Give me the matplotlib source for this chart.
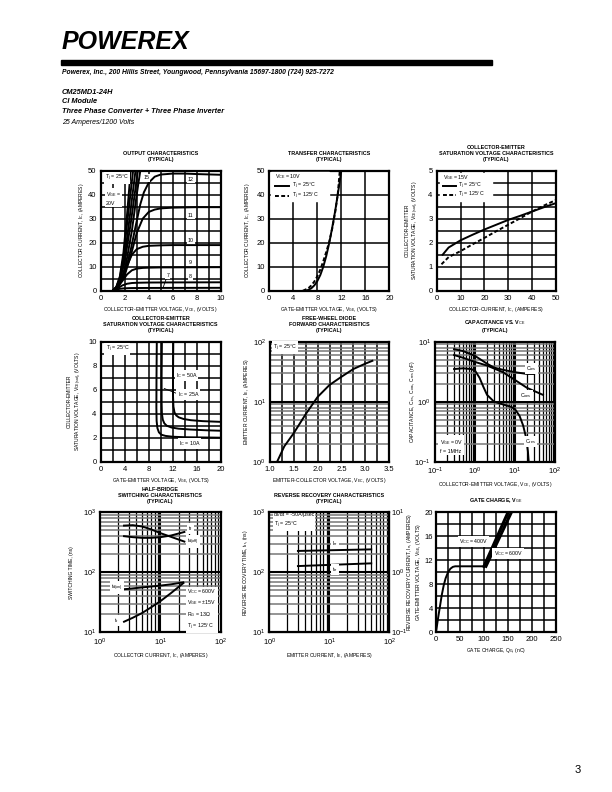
import numpy as np
import matplotlib
matplotlib.use("Agg")
import matplotlib.pyplot as plt
from matplotlib.patches import Rectangle

plt.rcParams['font.family'] = ['Liberation Sans', 'DejaVu Sans']
plt.rcParams['mathtext.fontset'] = 'custom'
plt.rcParams['mathtext.rm'] = 'Liberation Sans'
plt.rcParams['mathtext.it'] = 'Liberation Sans:italic'
plt.rcParams['mathtext.bf'] = 'Liberation Sans:bold'

# ---------------- data ----------------
# output characteristics, Ic vs Vce for several Vge
out_vge = ['20', '17', '15', '14', '13', '12', '11', '10', '9', '8', '7']
out_vce = [
    [1.0, 1.3, 1.6, 1.9, 2.2, 2.5],
    [1.0, 1.3, 1.6, 1.9, 2.2, 2.7],
    [1.0, 1.3, 1.6, 2.0, 2.4, 2.9],
    [1.0, 1.3, 1.6, 2.0, 2.5, 3.1],
    [1.0, 1.3, 1.7, 2.1, 2.6, 3.0, 3.3],
    [1.0, 1.5, 2.0, 2.5, 3.0, 3.3, 3.6, 4.0, 4.5, 5.0, 6, 7, 8, 10],
    [1.0, 1.5, 2.0, 2.5, 3.0, 3.5, 4.0, 4.5, 5, 6, 8, 10],
    [1.0, 1.4, 1.8, 2.2, 2.6, 3.0, 3.5, 4, 5, 6, 8, 10],
    [1.0, 1.4, 1.8, 2.2, 2.6, 3.0, 3.5, 4, 5, 10],
    [1.0, 1.4, 1.8, 2.2, 2.6, 3.0, 4, 6, 10],
    [1.0, 1.3, 1.6, 2.0, 2.5, 4, 10],
]
out_ic = [
    [0, 1.5, 6, 16, 32, 50],
    [0, 1.5, 5.5, 14, 28, 50],
    [0, 1.4, 5, 14, 30, 50],
    [0, 1.3, 4.5, 12, 28, 50],
    [0, 1.2, 4.5, 11, 25, 40, 50],
    [0, 2, 7, 17, 29, 36, 41, 45, 47.5, 48.4, 48.8, 48.8, 48.6, 48.3],
    [0, 2, 6.5, 14.5, 24, 30, 32.8, 33.8, 34.3, 34.6, 34.8, 34.8],
    [0, 1.8, 5.5, 10.5, 15, 17.3, 18.3, 18.7, 18.9, 19, 19, 19],
    [0, 1.5, 4, 6.8, 8.5, 9.2, 9.5, 9.6, 9.7, 9.8],
    [0, 1, 2.2, 2.9, 3.2, 3.3, 3.4, 3.45, 3.5],
    [0, 0.4, 0.8, 1.0, 1.1, 1.15, 1.2],
]

# transfer characteristics
tr_vge_25 = [6.2, 7, 7.5, 8, 8.5, 9, 9.5, 10, 10.5, 11, 11.5, 12.0]
tr_ic_25 = [0, 1, 2.2, 4, 6.5, 10, 14.5, 20, 26.5, 33.5, 41.5, 50]
tr_vge_125 = [5.6, 6.5, 7, 7.5, 8, 8.5, 9, 9.5, 10, 10.5, 11, 11.4, 11.75]
tr_ic_125 = [0, 1, 2.2, 3.8, 6, 8.8, 12.3, 16.2, 20.5, 26, 33, 40, 50]

# Vce(sat) vs Ic
sat_ic_25 = [2.5, 5, 10, 15, 20, 25, 30, 35, 40, 45, 50]
sat_v_25 = [1.5, 1.8, 2.1, 2.33, 2.55, 2.75, 2.95, 3.12, 3.3, 3.48, 3.65]
sat_ic_125 = [2, 5, 10, 15, 20, 25, 30, 35, 40, 45, 50]
sat_v_125 = [1.1, 1.4, 1.65, 1.93, 2.2, 2.48, 2.75, 3.02, 3.3, 3.55, 3.78]

# Vce(sat) vs Vge
vg_10 = [9.35, 9.3, 9.28, 9.32, 9.45, 9.7, 10.1, 10.8, 12, 14, 17, 20]
vc_10 = [10, 7, 4.5, 3.4, 2.8, 2.45, 2.25, 2.15, 2.08, 2.04, 2.02, 2.0]
vg_25 = [10.2, 10.15, 10.15, 10.2, 10.35, 10.6, 11, 11.8, 13, 15, 17.5, 20]
vc_25 = [10, 7, 5, 4, 3.5, 3.2, 3.0, 2.85, 2.75, 2.68, 2.62, 2.58]
vg_50 = [12.1, 12.05, 12.05, 12.12, 12.3, 12.6, 13, 13.8, 15, 17, 20]
vc_50 = [10, 7, 5.5, 4.6, 4.1, 3.85, 3.7, 3.56, 3.46, 3.38, 3.32]

# free-wheel diode forward
fwd_vec = [1.15, 1.3, 1.5, 1.75, 2.0, 2.25, 2.5, 2.75, 3.0, 3.15]
fwd_ie = [1, 1.8, 3.0, 6.2, 12, 19, 26, 35, 43, 48]

# capacitance
cap_v = [0.3, 0.5, 1, 2, 3, 5, 10, 20, 30]
cap_cies = [7.5, 7.0, 5.8, 4.3, 3.7, 3.4, 3.1, 2.9, 2.9]
coes_v = [0.3, 0.5, 1, 2, 5, 10, 20, 50]
cap_coes = [6.0, 5.4, 4.6, 4.0, 3.1, 2.3, 1.7, 1.3]
cres_v = [0.3, 0.5, 0.8, 1, 1.3, 1.6, 2, 3, 5, 8, 10, 13, 16, 19, 21, 22]
cap_cres = [3.5, 3.6, 3.5, 3.3, 2.5, 1.8, 1.3, 1.0, 0.9, 0.82, 0.75, 0.58, 0.4, 0.25, 0.15, 0.1]

# half-bridge switching
sw_ic = [2.5, 3.5, 5, 7, 10, 15, 25]
sw_tdoff = [600, 610, 580, 520, 450, 390, 325]
sw_tf = [400, 385, 375, 375, 385, 410, 470]
ton_ic = [2.3, 3, 5, 10, 15, 24]
sw_tdon = [52, 53, 56, 60, 63, 68]
tr_ic = [2.5, 3.5, 5, 7, 10, 15, 24]
sw_tr = [15, 17.5, 21, 26, 33, 45, 66]

# reverse recovery
rr_ie = [3, 50]
rr_irr = [2.27, 2.41]
rr_trr = [127, 141]

# gate charge
gc_q = [0, 4, 8, 12, 16, 20, 25, 30, 35, 40, 60, 100]
gc_v = [0, 2.2, 4.2, 6.2, 7.8, 9, 10, 10.6, 10.9, 11, 11, 11]
gc_q400 = [100, 150]
gc_v400 = [11, 20]
gc_q600 = [104, 157]
gc_v600 = [11, 20]

# ---------------- figure ----------------
W, H = 612, 792
fig = plt.figure(figsize=(6.12, 7.92), dpi=100)

TICK = 5.5
LAB = 3.6
TIT = 3.9
LW = 1.4
BOX = dict(facecolor='white', edgecolor='none', pad=0.8)


def place(x0, y0, w=120, h=120):
    return fig.add_axes([x0 / W, 1 - (y0 + h) / H, w / W, h / H])


def center_label(axis, x):
    # put the (rotated) axis label's centre at x, in axes coords
    axis.set_label_coords(x, 0.5)
    axis.label.set_rotation_mode('default')
    axis.label.set_ha('center')
    axis.label.set_va('center')


def frame(ax, title, xlabel, ylabel, ylx=-0.18):
    for s in ax.spines.values():
        s.set_linewidth(1.6)
    ax.tick_params(length=0, labelsize=TICK, pad=3)
    ax.set_title(title, fontsize=TIT, fontweight='bold', pad=7, linespacing=1.25)
    ax.set_xlabel(xlabel, fontsize=LAB, labelpad=2)
    ax.set_ylabel(ylabel, fontsize=LAB, linespacing=1.3)
    center_label(ax.yaxis, ylx)


def lin_grid(ax, xlim, ylim, nx, ny):
    ax.set_xlim(*xlim)
    ax.set_ylim(*ylim)
    for v in np.linspace(xlim[0], xlim[1], nx + 1)[1:-1]:
        ax.axvline(v, color='black', lw=1.1, zorder=1)
    for v in np.linspace(ylim[0], ylim[1], ny + 1)[1:-1]:
        ax.axhline(v, color='black', lw=1.1, zorder=1)


def log_lines(ax, lo, hi, vertical):
    line = ax.axvline if vertical else ax.axhline
    for e in range(lo, hi):
        for m in range(1, 10):
            v = m * 10.0 ** e
            if m == 1 and e == lo:
                continue
            if m == 1:
                line(v, color='black', lw=1.5, zorder=1)
            elif vertical:
                line(v, color='black', lw=0.9, zorder=1)
            else:
                line(v, color='#777777', lw=1.1, zorder=1)


def pow_labels(lo, hi):
    return [r'10$^{%d}$' % e for e in range(lo, hi + 1)]


# --- header ---
fig.text(62 / W, 1 - 42 / H, 'POWEREX', fontsize=18, fontweight='heavy',
         fontstyle='italic', va='center', ha='left')
fig.patches.append(Rectangle((61 / W, 1 - 64.5 / H), 431 / W, 5 / H,
                             transform=fig.transFigure, color='black'))
fig.text(62 / W, 1 - 72 / H,
         'Powerex, Inc., 200 Hillis Street, Youngwood, Pennsylvania 15697-1800 (724) 925-7272',
         fontsize=4.85, fontweight='bold', fontstyle='italic', va='center')
fig.text(62 / W, 1 - 93 / H, 'CM25MD1-24H', fontsize=5.3, fontweight='bold',
         fontstyle='italic', va='center')
fig.text(62 / W, 1 - 101.5 / H, 'CI Module', fontsize=5.3, fontweight='bold',
         fontstyle='italic', va='center')
fig.text(62 / W, 1 - 111.5 / H, 'Three Phase Converter + Three Phase Inverter',
         fontsize=5.3, fontweight='bold', fontstyle='italic', va='center')
fig.text(62 / W, 1 - 122 / H, '25 Amperes/1200 Volts', fontsize=5.0,
         fontstyle='italic', va='center')
fig.text(578 / W, 1 - 770 / H, '3', fontsize=8, va='center', ha='center')

# --- 1: output characteristics ---
ax = place(100.7, 170.7)
lin_grid(ax, (0, 10), (0, 50), 10, 10)
for vx, iy in zip(out_vce, out_ic):
    ax.plot(vx, iy, color='black', lw=LW, zorder=3)
ax.set_xticks(range(0, 11, 2))
ax.set_yticks(range(0, 51, 10))
frame(ax, 'OUTPUT CHARACTERISTICS\n(TYPICAL)',
      r'COLLECTOR-EMITTER VOLTAGE, V$_{\rm CE}$, (VOLTS)',
      r'COLLECTOR CURRENT, I$_{\rm C}$, (AMPERES)', -0.156)
ax.text(0.35, 47, r'T$_{\rm j}$ = 25°C', fontsize=3.8, va='center', bbox=BOX, zorder=4)
ax.text(0.45, 38.5, 'V$_{\\rm GE}$ =\n20V', fontsize=3.8, va='center', bbox=BOX,
        zorder=4, linespacing=1.4)
ax.text(3.55, 47, '15', fontsize=3.8, va='center', bbox=BOX, zorder=4)
for lab, yy in zip(['12', '11', '10', '9', '8'], [46.5, 31.5, 20.8, 11.7, 5.8]):
    ax.text(7.5, yy, lab, fontsize=3.8, va='center', ha='center', bbox=BOX, zorder=4)
ax.plot([5.45, 5.2], [4.8, 1.3], color='black', lw=0.6, zorder=4)
ax.text(5.6, 6.3, '7', fontsize=3.8, va='center', ha='center', bbox=BOX, zorder=4)

# --- 2: transfer characteristics ---
ax = place(269.3, 170.7)
lin_grid(ax, (0, 20), (0, 50), 5, 5)
ax.plot(tr_vge_25, tr_ic_25, color='black', lw=LW, zorder=3)
ax.plot(tr_vge_125, tr_ic_125, color='black', lw=LW, ls=(0, (2, 1.2)), zorder=3)
ax.set_xticks(range(0, 21, 4))
ax.set_yticks(range(0, 51, 10))
frame(ax, 'TRANSFER CHARACTERISTICS\n(TYPICAL)',
      r'GATE-EMITTER VOLTAGE, V$_{\rm GE}$, (VOLTS)',
      r'COLLECTOR CURRENT, I$_{\rm C}$, (AMPERES)', -0.18)
ax.add_patch(Rectangle((0.3, 37.3), 9.6, 12.3, color='white', zorder=4))
ax.text(1.0, 47.4, r'V$_{\rm CE}$ = 10V', fontsize=3.8, va='center', zorder=5)
ax.plot([1.0, 3.3], [43.5, 43.5], color='black', lw=LW, zorder=5)
ax.text(3.8, 43.5, r'T$_{\rm j}$ = 25°C', fontsize=3.8, va='center', zorder=5)
ax.plot([1.0, 3.3], [39.6, 39.6], color='black', lw=LW, ls=(0, (2, 1.2)), zorder=5)
ax.text(3.8, 39.6, r'T$_{\rm j}$ = 125°C', fontsize=3.8, va='center', zorder=5)

# --- 3: Vce(sat) vs Ic ---
ax = place(436.7, 170.7, 119.3)
lin_grid(ax, (0, 50), (0, 5), 5, 10)
ax.plot(sat_ic_25, sat_v_25, color='black', lw=LW, zorder=3)
ax.plot(sat_ic_125, sat_v_125, color='black', lw=LW, ls=(0, (2, 1.2)), zorder=3)
ax.set_xticks(range(0, 51, 10))
ax.set_yticks(range(0, 6))
frame(ax, 'COLLECTOR-EMITTER\nSATURATION VOLTAGE CHARACTERISTICS\n(TYPICAL)',
      r'COLLECTOR-CURRENT, I$_{\rm C}$, (AMPERES)',
      'COLLECTOR-EMITTER\n' + r'SATURATION VOLTAGE, V$_{\rm CE(sat)}$, (VOLTS)', -0.2)
ax.add_patch(Rectangle((1.2, 3.75), 22, 1.15, color='white', zorder=4))
ax.text(2.5, 4.7, r'V$_{\rm GE}$ = 15V', fontsize=3.8, va='center', zorder=5)
ax.plot([2.5, 8.0], [4.35, 4.35], color='black', lw=LW, zorder=5)
ax.text(9.0, 4.35, r'T$_{\rm j}$ = 25°C', fontsize=3.8, va='center', zorder=5)
ax.plot([2.5, 8.0], [3.98, 3.98], color='black', lw=LW, ls=(0, (2, 1.2)), zorder=5)
ax.text(9.0, 3.98, r'T$_{\rm j}$ = 125°C', fontsize=3.8, va='center', zorder=5)

# --- 4: Vce(sat) vs Vge ---
ax = place(100.7, 341.7)
lin_grid(ax, (0, 20), (0, 10), 10, 10)
for vx, vy in [(vg_10, vc_10), (vg_25, vc_25), (vg_50, vc_50)]:
    ax.plot(vx, vy, color='black', lw=LW, zorder=3)
ax.set_xticks(range(0, 21, 4))
ax.set_yticks(range(0, 11, 2))
frame(ax, 'COLLECTOR-EMITTER\nSATURATION VOLTAGE CHARACTERISTICS\n(TYPICAL)',
      r'GATE-EMITTER VOLTAGE, V$_{\rm GE}$, (VOLTS)',
      'COLLECTOR-EMITTER\n' + r'SATURATION VOLTAGE, V$_{\rm CE(sat)}$, (VOLTS)', -0.21)
ax.text(0.8, 9.4, r'T$_{\rm j}$ = 25°C', fontsize=3.8, va='center', bbox=BOX, zorder=4)
ax.text(12.5, 7.2, r'I$_{\rm C}$ = 50A', fontsize=3.8, va='center', bbox=BOX, zorder=4)
ax.plot([10.6, 12.6], [6.1, 5.7], color='black', lw=0.6, zorder=4)
ax.text(12.8, 5.6, r'I$_{\rm C}$ = 25A', fontsize=3.8, va='center', bbox=BOX, zorder=4)
ax.text(13.0, 1.5, r'I$_{\rm C}$ = 10A', fontsize=3.8, va='center', bbox=BOX, zorder=4)

# --- 5: free-wheel diode ---
ax = place(270, 341.7, 119)
ax.set_yscale('log')
ax.set_xlim(1.0, 3.5)
ax.set_ylim(1, 100)
for v in np.arange(1.25, 3.5, 0.25):
    ax.axvline(v, color='black', lw=1.1, zorder=1)
log_lines(ax, 0, 2, False)
ax.plot(fwd_vec, fwd_ie, color='black', lw=LW, zorder=3)
ax.set_xticks(np.arange(1.0, 3.51, 0.5))
ax.set_xticklabels(['%.1f' % v for v in np.arange(1.0, 3.51, 0.5)])
ax.set_yticks([1, 10, 100])
ax.set_yticklabels(pow_labels(0, 2))
ax.minorticks_off()
frame(ax, 'FREE-WHEEL DIODE\nFORWARD CHARACTERISTICS\n(TYPICAL)',
      r'EMITTER-COLLECTOR VOLTAGE, V$_{\rm EC}$, (VOLTS)',
      r'EMITTER CURRENT, I$_{\rm E}$, (AMPERES)', -0.195)
ax.text(1.07, 80, r'T$_{\rm j}$ = 25°C', fontsize=3.8, va='center', bbox=BOX, zorder=4)

# --- 6: capacitance ---
ax = place(435, 341.7)
ax.set_xscale('log')
ax.set_yscale('log')
ax.set_xlim(0.1, 100)
ax.set_ylim(0.1, 10)
log_lines(ax, -1, 2, True)
log_lines(ax, -1, 1, False)
ax.plot(cap_v, cap_cies, color='black', lw=LW, zorder=3)
ax.plot(coes_v, cap_coes, color='black', lw=LW, zorder=3)
ax.plot(cres_v, cap_cres, color='black', lw=LW, zorder=3)
ax.set_xticks([0.1, 1, 10, 100])
ax.set_xticklabels(pow_labels(-1, 2))
ax.set_yticks([0.1, 1, 10])
ax.set_yticklabels(pow_labels(-1, 1))
ax.minorticks_off()
frame(ax, 'CAPACITANCE VS. V$_{\\rm CE}$\n(TYPICAL)',
      r'COLLECTOR-EMITTER VOLTAGE, V$_{\rm CE}$, (VOLTS)',
      r'CAPACITANCE, C$_{\rm ies}$, C$_{\rm oes}$, C$_{\rm res}$ (nF)', -0.19)
ax.text(26, 3.6, r'C$_{\rm ies}$', fontsize=3.8, va='center', ha='center', bbox=BOX, zorder=4)
ax.text(19, 1.25, r'C$_{\rm oes}$', fontsize=3.8, va='center', ha='center', bbox=BOX, zorder=4)
ax.text(25, 0.22, r'C$_{\rm res}$', fontsize=3.8, va='center', ha='center', bbox=BOX, zorder=4)
ax.text(0.13, 0.185, 'V$_{\\rm GE}$ = 0V\nf = 1MHz', fontsize=3.8, va='center',
        bbox=BOX, zorder=4, linespacing=1.5)

# --- 7: half-bridge switching ---
ax = place(100, 512.3, 120.7)
ax.set_xscale('log')
ax.set_yscale('log')
ax.set_xlim(1, 100)
ax.set_ylim(10, 1000)
log_lines(ax, 0, 2, True)
log_lines(ax, 1, 3, False)
ax.plot(sw_ic, sw_tdoff, color='black', lw=LW, zorder=3)
ax.plot(sw_ic, sw_tf, color='black', lw=LW, zorder=3)
ax.plot(ton_ic, sw_tdon, color='black', lw=LW, zorder=3)
ax.plot(tr_ic, sw_tr, color='black', lw=LW, zorder=3)
ax.set_xticks([1, 10, 100])
ax.set_xticklabels(pow_labels(0, 2))
ax.set_yticks([10, 100, 1000])
ax.set_yticklabels(pow_labels(1, 3))
ax.minorticks_off()
frame(ax, 'HALF-BRIDGE\nSWITCHING CHARACTERISTICS\n(TYPICAL)',
      r'COLLECTOR CURRENT, I$_{\rm C}$, (AMPERES)',
      'SWITCHING TIME, (ns)', -0.236)
ax.text(29, 545, r't$_{\rm f}$', fontsize=3.8, va='center', ha='left', bbox=BOX, zorder=4)
ax.text(28, 325, r't$_{\rm d(off)}$', fontsize=3.8, va='center', ha='left', bbox=BOX, zorder=4)
ax.text(1.5, 56, r't$_{\rm d(on)}$', fontsize=3.8, va='center', ha='left', bbox=BOX, zorder=4)
ax.text(1.7, 15.5, r't$_{\rm r}$', fontsize=3.8, va='center', ha='left', bbox=BOX, zorder=4)
ax.text(28, 24,
        'V$_{\\rm CC}$ = 600V\nV$_{\\rm GE}$ = ±15V\nR$_{\\rm G}$ = 13Ω\nT$_{\\rm j}$ = 125°C',
        fontsize=3.8, va='center', ha='left', bbox=BOX, zorder=4, linespacing=1.45)

# --- 8: reverse recovery ---
ax = place(269.3, 512.3)
ax.set_xscale('log')
ax.set_yscale('log')
ax.set_xlim(1, 100)
ax.set_ylim(10, 1000)
log_lines(ax, 0, 2, True)
log_lines(ax, 1, 3, False)
ax.plot(rr_ie, rr_trr, color='black', lw=LW, zorder=3)
ax.set_xticks([1, 10, 100])
ax.set_xticklabels(pow_labels(0, 2))
ax.set_yticks([10, 100, 1000])
ax.set_yticklabels(pow_labels(1, 3))
ax.minorticks_off()
frame(ax, 'REVERSE RECOVERY CHARACTERISTICS\n(TYPICAL)',
      r'EMITTER CURRENT, I$_{\rm E}$, (AMPERES)',
      r'REVERSE RECOVERY TIME, t$_{\rm rr}$, (ns)', -0.2)
ax.text(1.2, 720, 'di/dt = -50A/μsec\nT$_{\\rm j}$ = 25°C', fontsize=3.8, va='center',
        bbox=BOX, zorder=4, linespacing=1.5)
ax.text(11, 112, r't$_{\rm rr}$', fontsize=3.8, va='center', ha='left', bbox=BOX, zorder=4)
ax2 = ax.twinx()
ax2.set_yscale('log')
ax2.set_ylim(0.1, 10)
ax2.plot(rr_ie, rr_irr, color='black', lw=LW, zorder=3)
ax2.set_yticks([0.1, 1, 10])
ax2.set_yticklabels(pow_labels(-1, 1))
ax2.minorticks_off()
ax2.tick_params(length=0, labelsize=TICK, pad=1)
ax2.set_ylabel(r'REVERSE RECOVERY CURRENT, I$_{\rm rr}$, (AMPERES)', fontsize=LAB)
center_label(ax2.yaxis, 1.17)
ax2.text(11, 3.05, r'I$_{\rm rr}$', fontsize=3.8, va='center', ha='left', bbox=BOX, zorder=4)

# --- 9: gate charge ---
ax = place(436, 512.3)
lin_grid(ax, (0, 250), (0, 20), 10, 10)
ax.plot(gc_q, gc_v, color='black', lw=LW, zorder=3)
ax.plot(gc_q400, gc_v400, color='black', lw=2.2, zorder=3)
ax.plot(gc_q600, gc_v600, color='black', lw=2.2, zorder=3)
ax.set_xticks(range(0, 251, 50))
ax.set_yticks(range(0, 21, 4))
ax_tick_pad = 2
frame(ax, 'GATE CHARGE, V$_{\\rm GE}$', r'GATE CHARGE, Q$_{\rm G}$, (nC)',
      r'GATE-EMITTER VOLTAGE, V$_{\rm GE}$, (VOLTS)', -0.148)
ax.tick_params(axis='y', pad=ax_tick_pad)
ax.text(48, 15.1, r'V$_{\rm CC}$ = 400V', fontsize=3.8, va='center', bbox=BOX, zorder=4)
ax.text(120, 13.2, r'V$_{\rm CC}$ = 600V', fontsize=3.8, va='center', bbox=BOX, zorder=4)

fig.savefig('out.png', dpi=100)
